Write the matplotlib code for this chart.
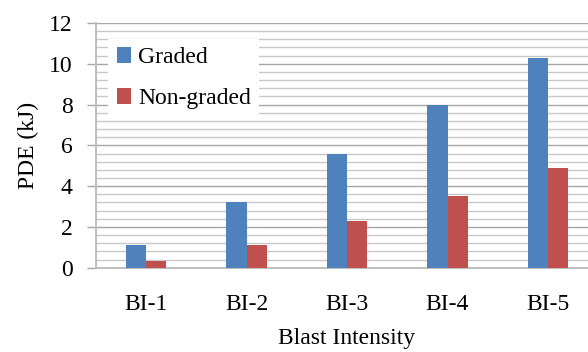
import matplotlib
matplotlib.use("Agg")
import matplotlib.pyplot as plt
import numpy as np
from matplotlib.ticker import MultipleLocator

# Data
categories = ["BI-1", "BI-2", "BI-3", "BI-4", "BI-5"]
graded = [1.13, 3.2, 5.6, 8.0, 10.3]
non_graded = [0.34, 1.13, 2.3, 3.5, 4.9]

plt.rcParams["font.family"] = ["Liberation Serif", "DejaVu Serif"]
FS = 17

fig = plt.figure(figsize=(5.88, 3.52), dpi=100)
ax = fig.add_axes([95.75 / 588, 1 - 267.7 / 352, 502.5 / 588, 244.7 / 352])

x = np.arange(len(categories))
w = 0.2
ax.bar(x - w / 2, graded, width=w, color="#4F81BD", label="Graded", zorder=3)
ax.bar(x + w / 2, non_graded, width=w, color="#C0504D", label="Non-graded", zorder=3)

ax.set_xlim(-0.5, len(categories) - 0.5)
ax.set_ylim(0, 12)
ax.yaxis.set_major_locator(MultipleLocator(2))
ax.yaxis.set_minor_locator(MultipleLocator(0.4))

ax.grid(axis="y", which="major", color="#a6a6a6", linewidth=1.0, zorder=0)
ax.grid(axis="y", which="minor", color="#c8c8c8", linewidth=1.0, zorder=0)
ax.set_axisbelow(True)

for s in ["top", "right"]:
    ax.spines[s].set_visible(False)
for s in ["left", "bottom"]:
    ax.spines[s].set_color("#bfbfbf")
    ax.spines[s].set_linewidth(1.5)

ax.set_xticks(x)
ax.set_xticklabels(categories)
ax.tick_params(axis="x", length=0, pad=19, labelsize=FS)
ax.tick_params(axis="y", which="major", length=6.5, width=1.0, color="#a6a6a6",
               pad=10, labelsize=FS)
ax.tick_params(axis="y", which="minor", length=0)

ax.set_ylabel("PDE (kJ)", fontsize=FS, labelpad=7)
ax.set_xlabel("Blast Intensity", fontsize=FS, labelpad=9)

leg = ax.legend(loc="upper left", bbox_to_anchor=(0.025, 0.935), frameon=True,
                fancybox=False, facecolor="white", edgecolor="none", framealpha=1,
                fontsize=FS, handlelength=0.62, handleheight=0.62, handletextpad=0.3,
                labelspacing=0.85, borderpad=0.35, borderaxespad=0)

fig.savefig("out.png", dpi=100)
